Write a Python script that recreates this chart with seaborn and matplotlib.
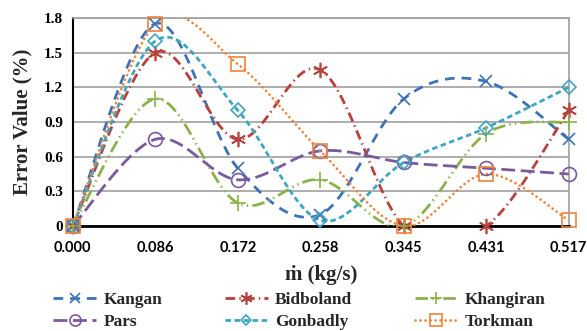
import numpy as np
import pandas as pd
import matplotlib
matplotlib.use("Agg")
import matplotlib.pyplot as plt
from matplotlib.lines import Line2D
import seaborn as sns

# ---- data ----
x_vals = [0.000, 0.086, 0.172, 0.258, 0.345, 0.431, 0.517]
x_labels = ["0.000", "0.086", "0.172", "0.258", "0.345", "0.431", "0.517"]
kangan    = [0, 1.75, 0.50, 0.10, 1.10, 1.25, 0.75]
bidboland = [0, 1.50, 0.75, 1.35, 0.00, 0.00, 1.00]
khangiran = [0, 1.10, 0.20, 0.40, 0.00, 0.80, 0.90]
pars      = [0, 0.75, 0.40, 0.65, 0.55, 0.50, 0.45]
gonbadly  = [0, 1.60, 1.00, 0.05, 0.55, 0.85, 1.20]
torkman   = [0, 1.75, 1.40, 0.65, 0.00, 0.45, 0.05]
y_ticks = [0, 0.3, 0.6, 0.9, 1.2, 1.5, 1.8]
y_labels = ["0", "0.3", "0.6", "0.9", "1.2", "1.5", "1.8"]

series = {
    "Kangan": kangan, "Bidboland": bidboland, "Khangiran": khangiran,
    "Pars": pars, "Gonbadly": gonbadly, "Torkman": torkman,
}

styles = {
    "Kangan":    dict(color="#3E72B8", ls=(0, (7, 5)), marker="x", ms=9),
    "Bidboland": dict(color="#B8413C", ls=(0, (7, 3, 1, 3)), marker=(6, 2, 0), ms=11),
    "Khangiran": dict(color="#8DB14C", ls=(0, (9, 3, 1, 3, 1, 3)), marker="+", ms=11),
    "Pars":      dict(color="#7A5A9E", ls=(0, (10, 4)), marker="o", ms=10),
    "Gonbadly":  dict(color="#3FA6C2", ls=(0, (4, 2.5)), marker="D", ms=7),
    "Torkman":   dict(color="#EE8438", ls=(0, (0.01, 3.6)), marker="s", ms=10),
}

plt.rcParams["lines.scale_dashes"] = False

def smooth(xs, ys, n=40):
    xs = np.asarray(xs, float); ys = np.asarray(ys, float)
    px = np.concatenate([[xs[0]], xs, [xs[-1]]])
    py = np.concatenate([[ys[0]], ys, [ys[-1]]])
    ox, oy = [], []
    t = np.linspace(0, 1, n)
    for i in range(1, len(px) - 2):
        p0 = np.array([px[i - 1], py[i - 1]]); p1 = np.array([px[i], py[i]])
        p2 = np.array([px[i + 1], py[i + 1]]); p3 = np.array([px[i + 2], py[i + 2]])
        c1 = p1 + (p2 - p0) / 6.0
        c2 = p2 - (p3 - p1) / 6.0
        b = ((1 - t) ** 3)[:, None] * p1 + (3 * (1 - t) ** 2 * t)[:, None] * c1 \
            + (3 * (1 - t) * t ** 2)[:, None] * c2 + (t ** 3)[:, None] * p2
        ox.extend(b[:, 0]); oy.extend(b[:, 1])
    return np.array(ox), np.array(oy)

sns.set_theme(style="white")
fig = plt.figure(figsize=(5.87, 3.31), dpi=100)
ax = fig.add_axes([0.124, 0.317, 0.845, 0.629])

order = ["Kangan", "Bidboland", "Khangiran", "Pars", "Gonbadly", "Torkman"]
for name in order:
    st = styles[name]
    sx, sy = smooth(x_vals, series[name])
    sdf = pd.DataFrame({"x": sx, "y": sy})
    sns.lineplot(data=sdf, x="x", y="y", ax=ax, color=st["color"], lw=2,
                 linestyle=st["ls"], sort=False, estimator=None, zorder=3,
                 dash_capstyle="round" if name == "Torkman" else "butt")
    df = pd.DataFrame({"x": x_vals, "y": series[name]})
    ax.plot(df["x"], df["y"], ls="none", marker=st["marker"], ms=st["ms"],
            mfc="none", mec=st["color"], mew=1.2, clip_on=False, zorder=4)

ax.set_xlim(0, 0.517)
ax.set_ylim(0, 1.8)
ax.set_xticks(x_vals)
ax.set_xticklabels(x_labels, fontfamily="Lato", fontweight="bold", fontsize=10.5)
ax.set_yticks(y_ticks)
ax.set_yticklabels(y_labels, fontfamily="Liberation Serif", fontweight="bold", fontsize=11)
ax.tick_params(axis="y", length=0, pad=7, colors="black")
ax.tick_params(axis="x", length=0, pad=11, colors="black")
ax.grid(axis="y", color="#A0A0A0", lw=1.2)
ax.grid(axis="x", visible=False)
for s in ["top", "right"]:
    ax.spines[s].set_color("#A0A0A0"); ax.spines[s].set_linewidth(1.2)
ax.spines["left"].set_color("black"); ax.spines["left"].set_linewidth(1.5)
ax.spines["bottom"].set_color("black"); ax.spines["bottom"].set_linewidth(2)
ax.set_xlabel("ṁ (kg/s)", family=["Liberation Serif", "DejaVu Serif"],
              fontweight="bold", fontsize=15, labelpad=7)
ax.set_ylabel("Error Value (%)", family=["Liberation Serif", "DejaVu Serif"],
              fontweight="bold", fontsize=15, labelpad=8)

handles = {}
for name in order:
    st = styles[name]
    handles[name] = Line2D([], [], color=st["color"], lw=2, linestyle=st["ls"],
                           marker=st["marker"], ms=st["ms"] * 0.8, mfc="none",
                           mec=st["color"], mew=1.2,
                           dash_capstyle="round" if name == "Torkman" else "butt")
leg_order = ["Kangan", "Pars", "Bidboland", "Gonbadly", "Khangiran", "Torkman"]
fig.legend([handles[n] for n in leg_order], leg_order, ncol=3,
           loc="lower center", bbox_to_anchor=(0.51, -0.045), frameon=False,
           prop=dict(family="Liberation Serif", weight="bold", size=12.5),
           handlelength=2.5, columnspacing=3.6, labelspacing=0.35, handletextpad=0.4)

fig.savefig("out.png", dpi=100)
